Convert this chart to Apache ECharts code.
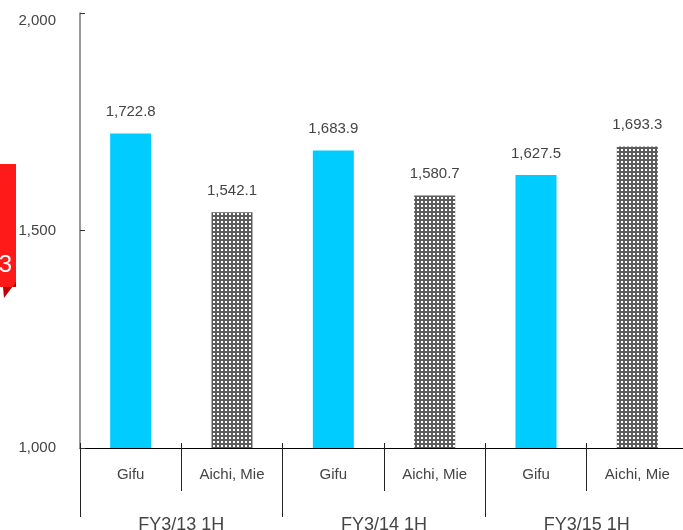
<!DOCTYPE html>
<html>
<head>
<meta charset="utf-8">
<script src="https://cdn.jsdelivr.net/npm/echarts@6/dist/echarts.min.js"></script>
<style>
  html, body { margin: 0; padding: 0; background: #fff; }
  #chart { width: 683px; height: 530px; }
</style>
</head>
<body>
<div id="chart"></div>
<script>
// data
var periods = ['FY3/13 1H', 'FY3/14 1H', 'FY3/15 1H']
var regions = ['Gifu', 'Aichi, Mie']
var gifu = [1722.8, 1683.9, 1627.5]
var aichiMie = [1542.1, 1580.7, 1693.3]
var yTicks = [1000, 1500, 2000]

// dotted grey fill for Aichi, Mie
var pat = document.createElement('canvas')
pat.width = 4
pat.height = 4
var ctx = pat.getContext('2d')
ctx.fillStyle = '#5c5c5c'
ctx.fillRect(0, 0, 4, 4)
ctx.fillStyle = '#ffffff'
ctx.fillRect(1, 1, 2, 2)

var cats = []
var barData = []
periods.forEach(function (p, i) {
  cats.push(regions[0], regions[1])
  barData.push({ value: gifu[i], itemStyle: { color: '#00ccff' } })
  barData.push({ value: aichiMie[i], itemStyle: { color: { image: pat, repeat: 'repeat' } } })
})

function fmt(v) {
  return v.toFixed(1).replace(/\B(?=(\d{3})+(?!\d))/g, ',')
}

var myChart = echarts.init(document.getElementById('chart'))
myChart.setOption({
  animation: false,
  textStyle: { fontFamily: 'Liberation Sans, Arial, sans-serif' },
  grid: { left: 80, top: 13, bottom: 82, right: -5, outerBoundsMode: 'none', containLabel: false },
  xAxis: [
    {
      type: 'category',
      data: cats,
      axisLine: { show: true, lineStyle: { color: '#000', width: 1 } },
      axisTick: { show: true, interval: 0, length: 43, lineStyle: { color: '#222' } },
      axisLabel: { interval: 0, margin: 19, fontSize: 15, color: '#444' }
    },
    {
      type: 'category',
      data: periods,
      position: 'bottom',
      axisLine: { show: false },
      axisTick: { show: true, interval: 0, length: 69, lineStyle: { color: '#222' } },
      axisLabel: { interval: 0, margin: 68, fontSize: 18, color: '#444' }
    },
    {
      type: 'category',
      data: cats,
      position: 'bottom',
      axisLine: { show: false },
      axisTick: { show: true, inside: true, interval: 0, length: 5, lineStyle: { color: '#222' } },
      axisLabel: { show: false }
    }
  ],
  yAxis: {
    type: 'value',
    min: yTicks[0],
    max: yTicks[yTicks.length - 1],
    interval: yTicks[1] - yTicks[0],
    axisLine: { show: true, lineStyle: { color: '#777', width: 1.5 } },
    axisTick: { show: true, inside: true, length: 5, lineStyle: { color: '#333' } },
    splitLine: { show: false },
    axisLabel: {
      margin: 24,
      fontSize: 15,
      color: '#444',
      verticalAlignMaxLabel: 'top',
      formatter: function (v) { return v.toLocaleString('en-US') }
    }
  },
  series: [
    {
      type: 'bar',
      data: barData,
      barWidth: 41,
      label: {
        show: true,
        position: 'top',
        distance: 14,
        fontSize: 15,
        color: '#444',
        formatter: function (p) { return fmt(p.value) }
      }
    }
  ],
  graphic: [
    // red badge clipped at the left edge
    { type: 'rect', shape: { x: -10, y: 164, width: 26, height: 123 }, style: { fill: '#ff1a1a' } },
    { type: 'polygon', shape: { points: [[3, 287], [16, 287], [16, 282], [4, 298]] }, style: { fill: '#c00000' } },
    { type: 'text', style: { text: '3', x: 12, y: 265, align: 'right', verticalAlign: 'middle', fontSize: 24, fill: '#fff', fontFamily: 'Liberation Sans, Arial, sans-serif' } }
  ]
})
window.onresize = function () {
  myChart.resize()
}
</script>
</body>
</html>
